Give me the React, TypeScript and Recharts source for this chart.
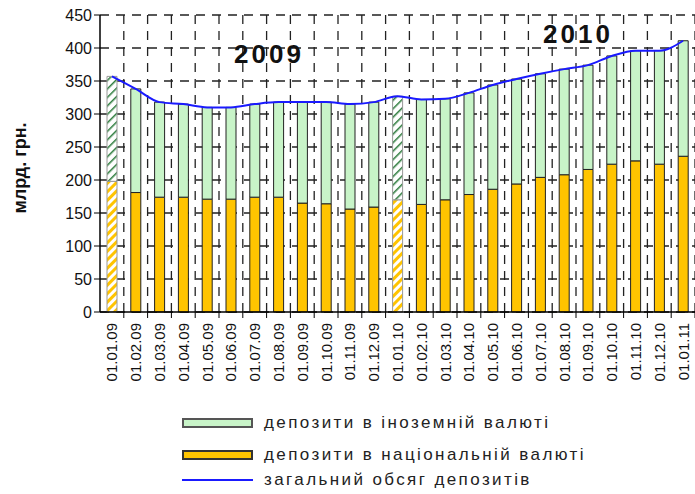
import React from 'react';
import { ComposedChart, Bar, Line, XAxis, YAxis, CartesianGrid, Cell } from 'recharts';

const dates = [
  '01.01.09', '01.02.09', '01.03.09', '01.04.09', '01.05.09', '01.06.09', '01.07.09',
  '01.08.09', '01.09.09', '01.10.09', '01.11.09', '01.12.09', '01.01.10', '01.02.10',
  '01.03.10', '01.04.10', '01.05.10', '01.06.10', '01.07.10', '01.08.10', '01.09.10',
  '01.10.10', '01.11.10', '01.12.10', '01.01.11',
];
// депозити в національній валюті
const national = [198, 181, 174, 174, 171, 171, 174, 174, 165, 164, 156, 159, 170, 163, 170, 178, 186, 194, 204, 208, 216, 224, 229, 224, 236];
// загальний обсяг депозитів
const total = [357, 338, 318, 315, 310, 310, 315, 318, 318, 318, 315, 318, 327, 322, 323, 332, 344, 353, 361, 368, 374, 388, 396, 396, 411];
const yTicks = [0, 50, 100, 150, 200, 250, 300, 350, 400, 450];
// bars drawn hatched in the original
const hatchedDates = ['01.01.09', '01.01.10'];

const data = dates.map((d, i) => ({
  date: d,
  national: national[i],
  foreign: total[i] - national[i],
  total: total[i],
  hatched: hatchedDates.includes(d),
}));

const GREEN = '#c8f4c8';
const ORANGE = '#ffc400';
const BLUE = '#1a1aff';
const FONT = 'Arial, "Liberation Sans", sans-serif';

const W = 695;
const H = 390;
const LEFT = 100;
const STEP = (W - LEFT) / dates.length;

const XTick = ({ x, y, payload }: any) => (
  <g>
    <line x1={x + STEP / 2} x2={x + STEP / 2} y1={y - 8} y2={y - 2} stroke="#000" />
    <text
      x={x}
      y={y}
      transform={`rotate(-90, ${x}, ${y})`}
      textAnchor="end"
      dominantBaseline="central"
      fontSize={15}
      fontFamily={FONT}
      fill="#111"
      dx={-3}
    >
      {payload.value}
    </text>
  </g>
);

const legendText: React.CSSProperties = { fontSize: 17, letterSpacing: 2.4, color: '#222', whiteSpace: 'nowrap' };
const yearText: React.CSSProperties = {
  position: 'absolute',
  fontSize: 26,
  lineHeight: 1,
  fontWeight: 'bold',
  letterSpacing: 3,
  color: '#111',
};

export default function App() {
  const n = dates.length;

  return (
    <div style={{ position: 'fixed', left: 0, top: 0, width: W, height: 494, background: '#fff', fontFamily: FONT }}>
      <ComposedChart
        width={W}
        height={H}
        data={data}
        margin={{ top: 15, right: 0, left: 0, bottom: 0 }}
        barCategoryGap={7}
      >
        <defs>
          <pattern id="hatchOrange" width="6" height="6" patternUnits="userSpaceOnUse" patternTransform="rotate(45)">
            <rect width="6" height="6" fill="#fff" />
            <rect width="3" height="6" fill={ORANGE} />
          </pattern>
          <pattern id="hatchGreen" width="6" height="6" patternUnits="userSpaceOnUse" patternTransform="rotate(45)">
            <rect width="6" height="6" fill="#fff" />
            <rect width="1.5" height="6" fill="#2a7a3a" />
          </pattern>
        </defs>
        <CartesianGrid
          stroke="#222"
          strokeWidth={1.3}
          strokeDasharray="9 7"
          verticalCoordinatesGenerator={({ offset, width }: any) => {
            const plotW = offset?.width ?? width - LEFT;
            const l = offset?.left ?? LEFT;
            return Array.from({ length: n }, (_, i) => l + ((i + 1) * plotW) / n);
          }}
        />
        <XAxis
          dataKey="date"
          height={78}
          interval={0}
          tick={<XTick />}
          tickLine={false}
          axisLine={{ stroke: '#000', strokeWidth: 1.5 }}
        />
        <YAxis
          width={LEFT}
          domain={[0, 450]}
          ticks={yTicks}
          interval={0}
          tick={{ fontSize: 16, fill: '#111', fontFamily: FONT }}
          tickLine={{ stroke: '#000' }}
          tickSize={6}
          axisLine={{ stroke: '#000', strokeWidth: 1.5 }}
        />
        <Bar dataKey="national" stackId="a" fill={ORANGE} stroke="#222" strokeWidth={1} barSize={10} isAnimationActive={false}>
          {data.map((d) => (
            <Cell key={d.date} fill={d.hatched ? 'url(#hatchOrange)' : ORANGE} stroke={d.hatched ? '#999' : '#222'} />
          ))}
        </Bar>
        <Bar dataKey="foreign" stackId="a" fill={GREEN} stroke="#222" strokeWidth={1} barSize={10} isAnimationActive={false}>
          {data.map((d) => (
            <Cell key={d.date} fill={d.hatched ? 'url(#hatchGreen)' : GREEN} stroke={d.hatched ? '#999' : '#222'} />
          ))}
        </Bar>
        <Line type="monotone" dataKey="total" stroke={BLUE} strokeWidth={2} dot={false} isAnimationActive={false} />
      </ComposedChart>

      <div style={{ ...yearText, left: 234, top: 41 }}>2009</div>
      <div style={{ ...yearText, left: 543, top: 21 }}>2010</div>
      <div
        style={{
          position: 'absolute',
          left: 20,
          top: 168,
          transform: 'translate(-50%, -50%) rotate(-90deg)',
          fontSize: 18,
          fontWeight: 'bold',
          whiteSpace: 'nowrap',
          color: '#111',
        }}
      >
        млрд. грн.
      </div>

      <div style={{ position: 'absolute', left: 182, top: 413, height: 20, display: 'flex', alignItems: 'center' }}>
        <span style={{ display: 'inline-block', width: 67, height: 6, background: GREEN, border: '2px solid #555', marginRight: 11 }} />
        <span style={legendText}>депозити в іноземній валюті</span>
      </div>
      <div style={{ position: 'absolute', left: 182, top: 445, height: 20, display: 'flex', alignItems: 'center' }}>
        <span style={{ display: 'inline-block', width: 67, height: 6, background: ORANGE, border: '2px solid #333', marginRight: 11 }} />
        <span style={legendText}>депозити в національній валюті</span>
      </div>
      <div style={{ position: 'absolute', left: 182, top: 470, height: 20, display: 'flex', alignItems: 'center' }}>
        <span style={{ display: 'inline-block', width: 71, height: 2, background: BLUE, marginRight: 11 }} />
        <span style={legendText}>загальний обсяг депозитів</span>
      </div>
    </div>
  );
}
